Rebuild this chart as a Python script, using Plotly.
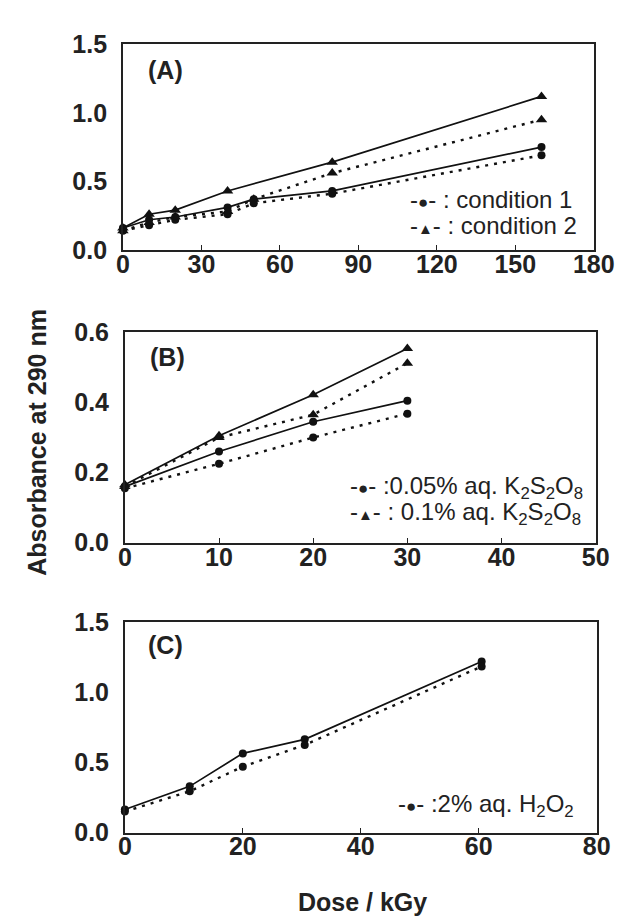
import plotly.graph_objects as go

W, H = 624, 923

# ---------------- data ----------------
# Panel A
a_x_circ = [0, 10, 20, 40, 50, 80, 160]
a_circ_solid = [0.16, 0.22, 0.24, 0.31, 0.37, 0.43, 0.75]
a_circ_dot = [0.14, 0.18, 0.22, 0.26, 0.34, 0.41, 0.69]
a_x_tri = [0, 10, 20, 40, 80, 160]
a_tri_solid = [0.16, 0.26, 0.29, 0.43, 0.64, 1.12]
a_x_tri_dot = [0, 10, 20, 40, 50, 80, 160]
a_tri_dot = [0.14, 0.20, 0.24, 0.28, 0.37, 0.56, 0.95]
a_xticks = [0, 30, 60, 90, 120, 150, 180]
a_yticks = [0.0, 0.5, 1.0, 1.5]

# Panel B
b_x = [0, 10, 20, 30]
b_circ_solid = [0.16, 0.26, 0.345, 0.405]
b_circ_dot = [0.155, 0.225, 0.30, 0.368]
b_tri_solid = [0.165, 0.305, 0.422, 0.554]
b_tri_dot = [0.16, 0.30, 0.365, 0.512]
b_xticks = [0, 10, 20, 30, 40, 50]
b_yticks = [0.0, 0.2, 0.4, 0.6]

# Panel C
c_x = [0, 11, 20, 30.5, 60.5]
c_circ_solid = [0.165, 0.33, 0.565, 0.665, 1.22]
c_circ_dot = [0.15, 0.295, 0.47, 0.625, 1.185]
c_xticks = [0, 20, 40, 60, 80]
c_yticks = [0.0, 0.5, 1.0, 1.5]

legend_a = ["-<span style='font-size:17px'>●</span>- : condition 1",
            "-<span style='font-size:15px'>▲</span>- : condition 2"]
legend_b = ["-<span style='font-size:17px'>●</span>- :0.05% aq. K<sub>2</sub>S<sub>2</sub>O<sub>8</sub>",
            "-<span style='font-size:15px'>▲</span>- : 0.1% aq. K<sub>2</sub>S<sub>2</sub>O<sub>8</sub>"]
legend_c = ["-<span style='font-size:17px'>●</span>- :2% aq. H<sub>2</sub>O<sub>2</sub>"]
panel_labels = ["(A)", "(B)", "(C)"]
y_title = "Absorbance at 290 nm"
x_title = "Dose / kGy"

# ---------------- layout helpers ----------------
def px(x):
    return x / W

def py(y):
    return 1 - y / H

FONT = "Liberation Sans, Arial, sans-serif"
DOT = "3px,6px"

fig = go.Figure()

def add(xs, ys, ax, symbol, dash, size):
    fig.add_trace(go.Scatter(
        x=xs, y=ys, xaxis=ax[0], yaxis=ax[1], mode="lines+markers",
        line=dict(color="#111", width=2.4 if dash != "solid" else 1.7, dash=dash),
        marker=dict(symbol=symbol, size=size, color="#111"),
        cliponaxis=False, showlegend=False, hoverinfo="skip"))

# Panel A
add(a_x_circ, a_circ_solid, ("x", "y"), "circle", "solid", 8)
add(a_x_circ, a_circ_dot, ("x", "y"), "circle", DOT, 8)
add(a_x_tri, a_tri_solid, ("x", "y"), "triangle-up", "solid", 10)
add(a_x_tri_dot, a_tri_dot, ("x", "y"), "triangle-up", DOT, 10)
# Panel B
add(b_x, b_circ_solid, ("x2", "y2"), "circle", "solid", 8)
add(b_x, b_circ_dot, ("x2", "y2"), "circle", DOT, 8)
add(b_x, b_tri_solid, ("x2", "y2"), "triangle-up", "solid", 10)
add(b_x, b_tri_dot, ("x2", "y2"), "triangle-up", DOT, 10)
# Panel C
add(c_x, c_circ_solid, ("x3", "y3"), "circle", "solid", 8)
add(c_x, c_circ_dot, ("x3", "y3"), "circle", DOT, 8)

tickfont = dict(family=FONT, size=25, color="#222", weight="bold")

def xax(domain, rng, ticks, anchor):
    return dict(domain=domain, range=rng, tickvals=ticks, ticks="inside", ticklen=5,
                tickwidth=1.3, tickcolor="#222", showline=True, mirror=True,
                linecolor="#222", linewidth=1.6, showgrid=False, zeroline=False,
                tickfont=tickfont, anchor=anchor, ticklabelstandoff=-9)

def yax(domain, rng, ticks, anchor):
    return dict(domain=domain, range=rng, tickvals=ticks, tickformat=".1f", ticks="",
                showline=True, mirror=True, linecolor="#222", linewidth=1.6,
                showgrid=False, zeroline=False, tickfont=tickfont, anchor=anchor,
                ticklabelstandoff=9)

fig.update_layout(
    width=W, height=H, margin=dict(l=0, r=0, t=0, b=0),
    paper_bgcolor="white", plot_bgcolor="white",
    xaxis=xax([px(113), px(606)], [0, 180], a_xticks, "y"),
    yaxis=yax([py(235), py(23)], [0, 1.5], a_yticks, "x"),
    xaxis2=xax([px(115), px(608)], [0, 50], b_xticks, "y2"),
    yaxis2=yax([py(537), py(320)], [0, 0.6], b_yticks, "x2"),
    xaxis3=xax([px(115), px(609)], [0, 80], c_xticks, "y3"),
    yaxis3=yax([py(836), py(619)], [0, 1.5], c_yticks, "x3"),
)

ann = []
legfont = dict(family=FONT, size=24, color="#222")
for txt, y in zip(legend_a, [183, 210]):
    ann.append(dict(text=txt, x=px(411), y=py(y), xref="paper", yref="paper",
                    xanchor="left", yanchor="middle", showarrow=False, font=legfont))
for txt, y in zip(legend_b, [480, 507]):
    ann.append(dict(text=txt, x=px(349), y=py(y), xref="paper", yref="paper",
                    xanchor="left", yanchor="middle", showarrow=False, font=legfont))
for txt, y in zip(legend_c, [808]):
    ann.append(dict(text=txt, x=px(399), y=py(y), xref="paper", yref="paper",
                    xanchor="left", yanchor="middle", showarrow=False, font=legfont))

labfont = dict(family=FONT, size=25, color="#222", weight="bold")
for txt, (x, y) in zip(panel_labels, [(158, 50), (160, 345), (158, 643)]):
    ann.append(dict(text=txt, x=px(x), y=py(y), xref="paper", yref="paper",
                    xanchor="center", yanchor="middle", showarrow=False, font=labfont))

titfont = dict(family=FONT, size=25, color="#222", weight="bold")
ann.append(dict(text=y_title, x=px(23), y=py(433), xref="paper", yref="paper",
                textangle=-90, xanchor="center", yanchor="middle", showarrow=False,
                font=titfont))
ann.append(dict(text=x_title, x=px(364), y=py(908), xref="paper", yref="paper",
                xanchor="center", yanchor="middle", showarrow=False, font=titfont))
fig.update_layout(annotations=ann)

fig.write_html("out.html")
